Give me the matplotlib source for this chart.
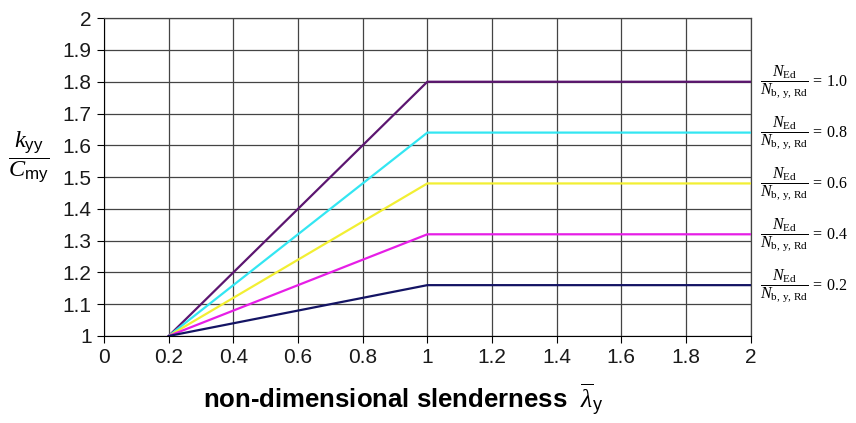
import matplotlib
matplotlib.use('Agg')
import matplotlib.pyplot as plt

plt.rcParams['font.family'] = ['Liberation Sans', 'DejaVu Sans']
plt.rcParams['mathtext.fontset'] = 'custom'
plt.rcParams['mathtext.rm'] = 'Liberation Serif'
plt.rcParams['mathtext.it'] = 'Liberation Serif:italic'
plt.rcParams['mathtext.sf'] = 'Liberation Sans'

# break points of each curve: start, kink, end
lam = [0.2, 1.0, 2.0]
ratios = ['1.0', '0.8', '0.6', '0.4', '0.2']
k_10 = [1.0, 1.80, 1.80]
k_08 = [1.0, 1.64, 1.64]
k_06 = [1.0, 1.48, 1.48]
k_04 = [1.0, 1.32, 1.32]
k_02 = [1.0, 1.16, 1.16]
curves = [k_10, k_08, k_06, k_04, k_02]
colors = ['#5c1670', '#33e6f2', '#f2ef33', '#e61ee6', '#141464']
xlabels = ['0', '0.2', '0.4', '0.6', '0.8', '1', '1.2', '1.4', '1.6', '1.8', '2']
ylabels = ['1', '1.1', '1.2', '1.3', '1.4', '1.5', '1.6', '1.7', '1.8', '1.9', '2']

fig = plt.figure(figsize=(8.56, 4.23), dpi=100)
ax = fig.add_axes([0.1215, 0.2057, 0.7555, 0.7513])

for y, c in zip(curves, colors):
    ax.plot(lam, y, color=c, lw=1.6, zorder=3)

ax.set_xlim(0, 2)
ax.set_ylim(1, 2)
ax.set_xticks([i / 5 for i in range(11)])
ax.set_yticks([1 + i / 10 for i in range(11)])
ax.set_xticklabels(xlabels, fontsize=15)
ax.set_yticklabels(ylabels, fontsize=15)
ax.grid(True, color='#444444', lw=0.9)
ax.tick_params(length=5, color='black', pad=4, labelcolor='#1a1a1a')
for s in ['top', 'right']:
    ax.spines[s].set_color('#444444')
    ax.spines[s].set_linewidth(0.9)

fig.text(0.471, 0.035, r'non-dimensional slenderness  $\overline{\lambda}_{\mathsf{y}}$',
         fontsize=18.5, fontweight='bold', ha='center', va='baseline')
fig.text(0.033, 0.627, r'$\dfrac{k_{\mathsf{yy}}}{C_{\mathsf{my}}}$', fontsize=17.5,
         ha='center', va='center')

for y, r in zip(curves, ratios):
    ax.text(2.03, y[-1], r'$\dfrac{N_{\mathrm{Ed}}}{N_{\mathrm{b,\,y,\,Rd}}}$ = ' + r,
            fontsize=11.5, family='Liberation Serif', va='center', ha='left')

fig.savefig('out.png', dpi=100)
